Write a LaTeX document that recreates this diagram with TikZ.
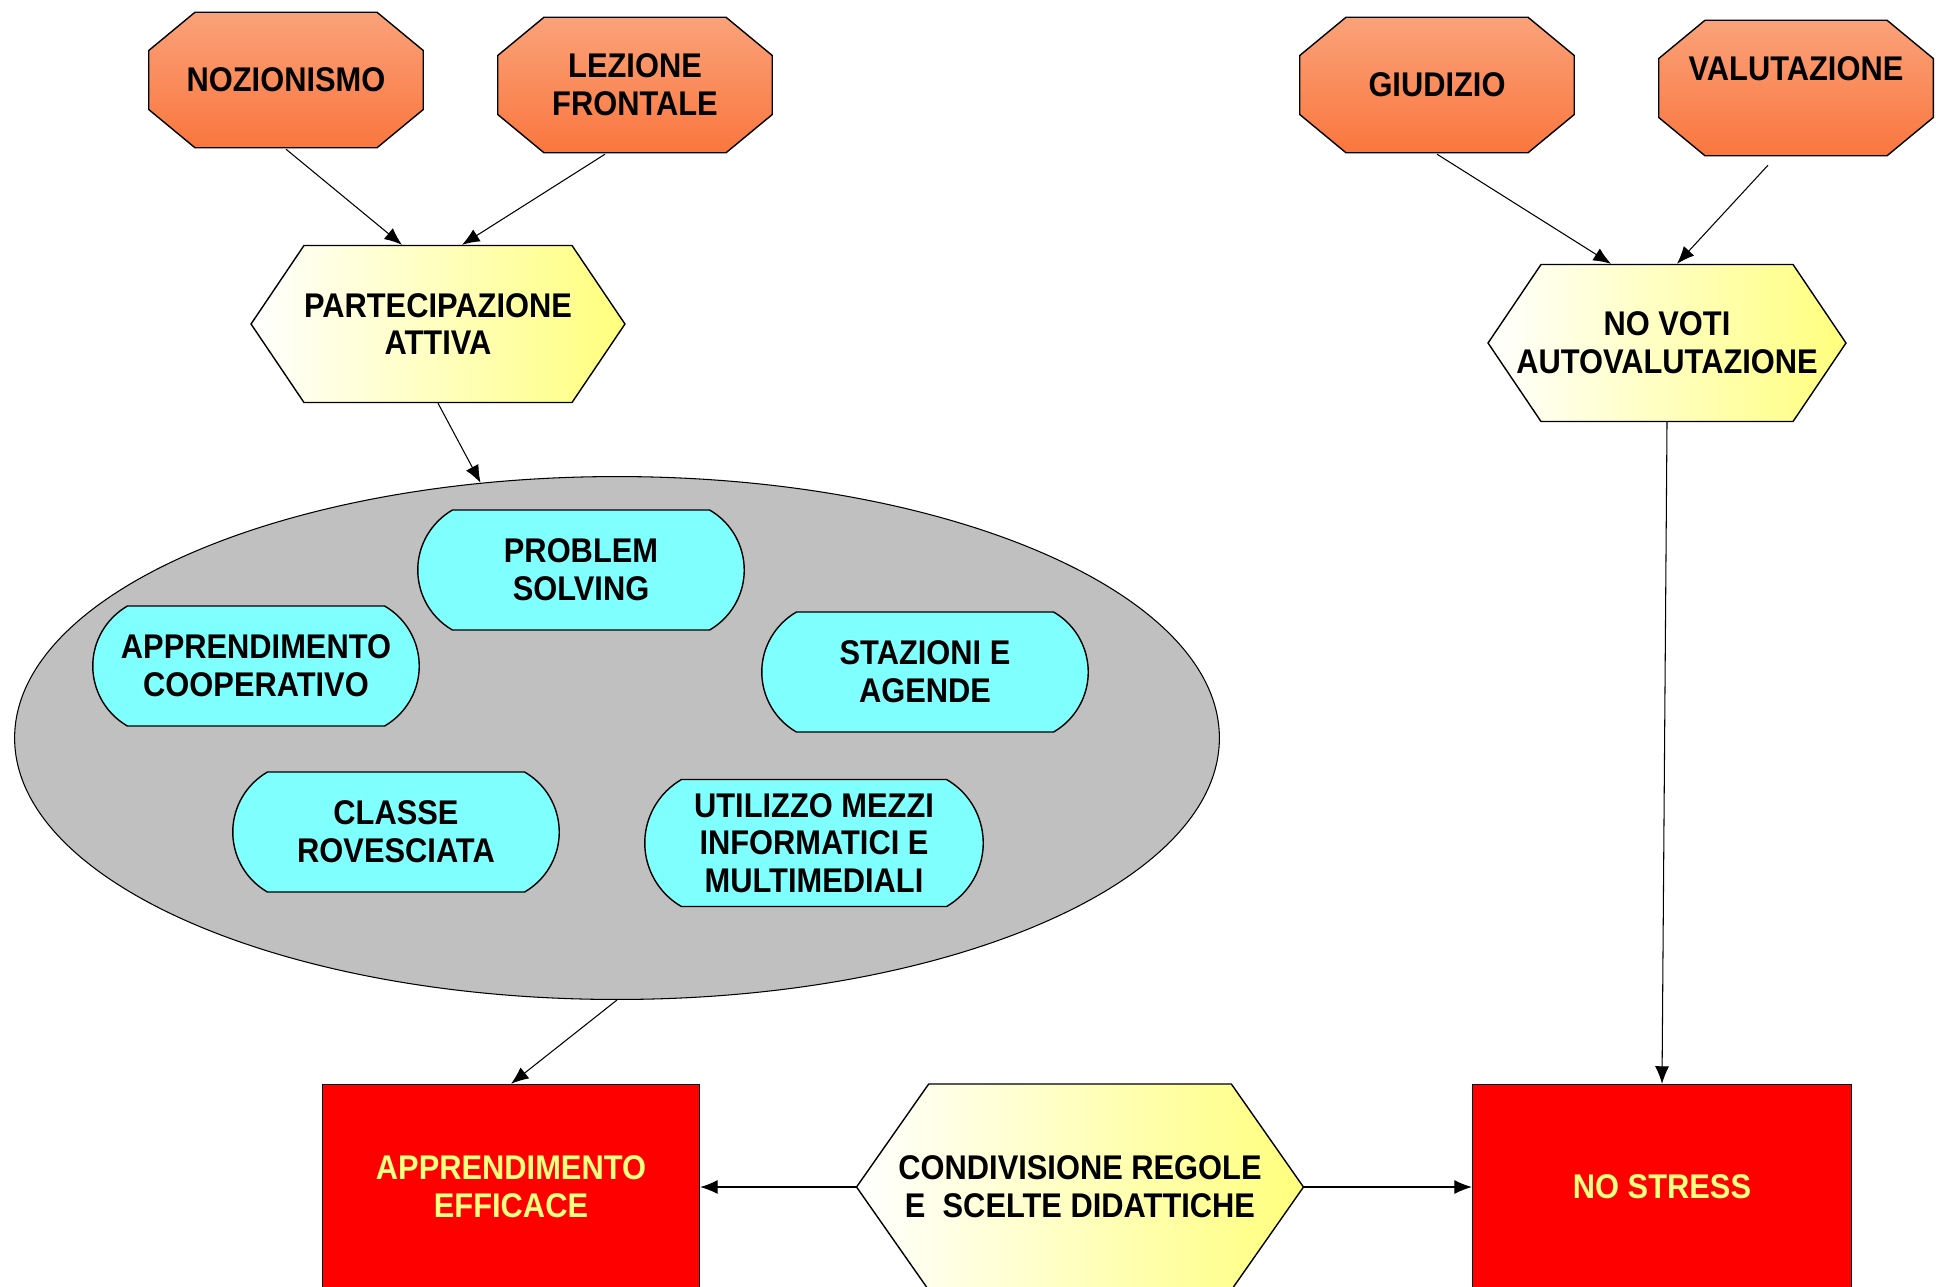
\documentclass[tikz,border=0pt]{standalone}
\usepackage{fontspec}
\setmainfont{Liberation Sans}[FakeStretch=0.9]
\usetikzlibrary{shapes.misc, shapes.geometric, shapes.symbols, arrows.meta}

\definecolor{octtop}{RGB}{250,162,122}
\definecolor{octbot}{RGB}{250,118,62}
\definecolor{hexyel}{RGB}{255,255,125}
\definecolor{ellgray}{RGB}{192,192,192}
\definecolor{boxcyan}{RGB}{128,255,255}
\definecolor{goalred}{RGB}{255,0,0}
\definecolor{goaltext}{RGB}{255,255,130}

\begin{document}
\begin{tikzpicture}[x=0.02cm, y=-0.02cm,
		every node/.style={align=center, font=\fontsize{19.5}{21.5}\selectfont\bfseries, line width=0.8pt},
		every path/.style={>={Latex[length=10pt,width=8pt]}},
		oct/.style={rectangle, minimum width=5.52cm, minimum height=2.74cm, inner sep=0pt,
			path picture={
				\shade[draw, line width=0.8pt, top color=octtop, bottom color=octbot]
					([shift={(0.94cm,-0.4pt)}]path picture bounding box.north west) --
					([shift={(-0.94cm,-0.4pt)}]path picture bounding box.north east) --
					([shift={(-0.4pt,-0.78cm)}]path picture bounding box.north east) --
					([shift={(-0.4pt,0.78cm)}]path picture bounding box.south east) --
					([shift={(-0.94cm,0.4pt)}]path picture bounding box.south east) --
					([shift={(0.94cm,0.4pt)}]path picture bounding box.south west) --
					([shift={(0.4pt,0.78cm)}]path picture bounding box.south west) --
					([shift={(0.4pt,-0.78cm)}]path picture bounding box.north west) -- cycle;}},
		hex/.style={draw, signal, signal to=west and east, signal pointer angle=112,
			left color=white, right color=hexyel, minimum height=3.14cm, inner xsep=-20pt},
		pill/.style={draw, rounded rectangle, rounded rectangle arc length=120, fill=boxcyan,
			minimum width=6.6cm, minimum height=2.4cm, inner sep=1pt},
		goal/.style={draw, rectangle, fill=goalred, text=goaltext, minimum width=7.54cm, minimum height=4.1cm},
		conn/.style={->, line width=0.6pt}]
	\path[use as bounding box, fill=white] (0,0) rectangle (1936,1286);

	% ostacoli
	\node[oct] (noz) at (286,80) {NOZIONISMO};
	\node[oct] (lez) at (635,85) {LEZIONE\\FRONTALE};
	\node[oct] (giu) at (1437,85) {GIUDIZIO};
	\node[oct, text height=14pt, text depth=22pt] (val) at (1796,88) {VALUTAZIONE};

	\node[hex, minimum width=7.48cm] (part) at (438,324) {PARTECIPAZIONE\\ATTIVA};
	\node[hex, minimum width=7.16cm] (novoti) at (1667,343) {NO VOTI\\AUTOVALUTAZIONE};

	% metodologie
	\node[draw, ellipse, fill=ellgray, line width=0.6pt, minimum width=24.1cm, minimum height=10.46cm] (ell) at (617,738) {};
	\node[pill] (ps) at (581,570) {PROBLEM\\SOLVING};
	\node[pill] (coop) at (256,666) {APPRENDIMENTO\\COOPERATIVO};
	\node[pill] (staz) at (925,672) {STAZIONI E\\AGENDE};
	\node[pill] (cls) at (396,832) {CLASSE\\ROVESCIATA};
	\node[pill, minimum width=6.84cm, minimum height=2.54cm] (util) at (814,843) {UTILIZZO MEZZI\\INFORMATICI E\\MULTIMEDIALI};

	% obiettivi
	\node[goal] (appeff) at (511,1187) {APPRENDIMENTO\\EFFICACE};
	\node[hex, minimum width=8.94cm, minimum height=4.12cm, signal pointer angle=110] (cond) at (1080,1187) {CONDIVISIONE REGOLE\\E\ \ SCELTE DIDATTICHE};
	\node[goal, minimum width=7.58cm] (nostress) at (1662,1187) {NO STRESS};

	\path [conn] (noz.south) edge ([xshift=-0.72cm]part.north);
	\path [conn] ([xshift=-0.6cm]lez.south) edge ([xshift=0.48cm]part.north);
	\path [conn] (part.south) edge (ell);
	\path [conn] (ell.south) edge (appeff.north);
	\path [conn] (giu.south) edge ([xshift=-1.12cm]novoti.north);
	\path [conn] ([xshift=-0.56cm, yshift=-0.16cm]val.south) edge ([xshift=0.2cm]novoti.north);
	\path [conn] (novoti.south) edge (nostress.north);
	\path [conn] (cond.west) edge (appeff.east);
	\path [conn] (cond.east) edge (nostress.west);
\end{tikzpicture}
\end{document}
